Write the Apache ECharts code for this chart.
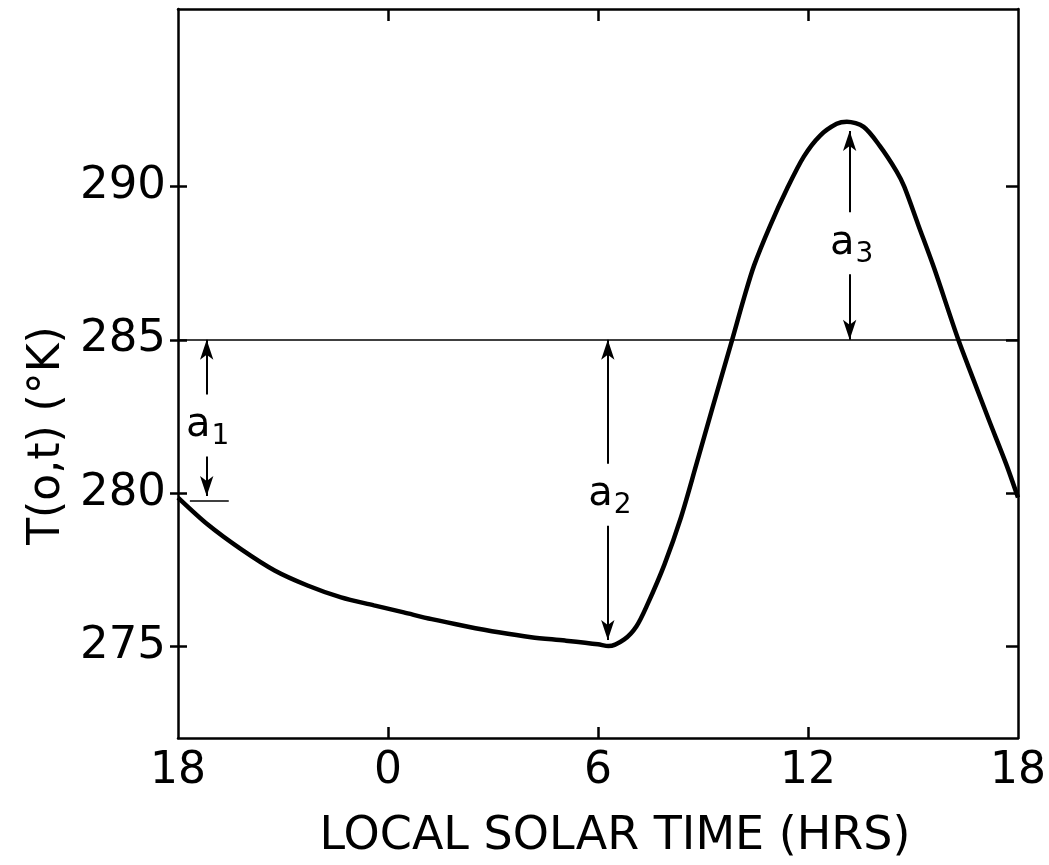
<!DOCTYPE html>
<html>
<head>
<meta charset="utf-8">
<script src="https://cdn.jsdelivr.net/npm/echarts@6/dist/echarts.min.js"></script>
<style>
html,body{margin:0;padding:0;background:#fff;}
#chart{width:1049px;height:865px;}
</style>
</head>
<body>
<div id="chart"></div>
<script>
// hours elapsed since 18 LST
const hours = [0, 0.85, 1.82, 2.76, 3.70, 4.66, 5.60, 6.45, 7.25, 8.22, 9.16, 10.09, 11.06, 12.0, 12.3, 12.75, 13.1, 13.42, 13.90, 14.37, 14.81, 15.27, 15.82, 16.17, 16.46, 16.92, 17.40, 17.88, 18.34, 18.82, 19.11, 19.59, 20.05, 20.53, 20.75, 21.15, 21.6, 22.28, 22.71, 23.18, 23.66, 24];
const temps = [279.85, 278.97, 278.15, 277.47, 276.98, 276.59, 276.33, 276.10, 275.88, 275.65, 275.45, 275.29, 275.18, 275.06, 275.0, 275.22, 275.65, 276.38, 277.67, 279.2, 280.93, 282.78, 284.95, 286.36, 287.43, 288.73, 289.93, 290.98, 291.66, 292.05, 292.12, 291.95, 291.33, 290.5, 290.0, 288.75, 287.35, 285.05, 283.75, 282.35, 280.95, 279.85];
const meanTemp = 285;
const xTickValues = [0, 6, 12, 18, 24];
const xTickLabels = ['18', '0', '6', '12', '18'];
const yTickValues = [275, 280, 285, 290];
// annotation arrows: [x, yFrom, yTo]
const arrowA1 = [0.82, 285, 279.9];
const arrowA2 = [12.28, 285, 275.2];
const arrowA3 = [19.19, 291.82, 285];
const a1Bar = [0.34, 1.45, 279.75];
const annotLabels = [
  {name: '1', pos: [0.85, 282.2]},
  {name: '2', pos: [12.34, 279.94]},
  {name: '3', pos: [19.25, 288.15]}
];

const FONT = 'DejaVu Sans';
const chart = echarts.init(document.getElementById('chart'), null, {renderer: 'canvas'});
const lineStyleAxis = {color: '#000', width: 2.5};

const curveData = hours.map((h, i) => [h, temps[i]]);
function arrow(a) {
  return [{coord: [a[0], a[1]]}, {coord: [a[0], a[2]]}];
}

const option = {
  backgroundColor: '#fff',
  animation: false,
  grid: {left: 178, right: 28, top: 9, bottom: 125, containLabel: false},
  xAxis: [{
    type: 'value', min: 0, max: 24, position: 'bottom',
    axisLine: {show: true, lineStyle: lineStyleAxis},
    axisTick: {show: true, inside: true, length: 11, lineStyle: {color: '#000', width: 2.5}, customValues: [6, 12, 18]},
    axisLabel: {show: true, customValues: xTickValues, margin: 12, color: '#000', fontFamily: FONT, fontSize: 44,
      formatter: v => xTickLabels[xTickValues.indexOf(v)]},
    splitLine: {show: false},
    name: 'LOCAL SOLAR TIME (HRS)', nameLocation: 'middle', nameGap: 76,
    nameTextStyle: {color: '#000', fontFamily: FONT, fontSize: 46, padding: [0, 0, 0, 34]}
  }, {
    type: 'value', min: 0, max: 24, position: 'top',
    axisLine: {show: true, lineStyle: lineStyleAxis},
    axisTick: {show: true, inside: true, length: 12, lineStyle: {color: '#000', width: 2.5}, customValues: [6, 12, 18]},
    axisLabel: {show: false}, splitLine: {show: false}
  }],
  yAxis: [{
    type: 'value', min: 272, max: 295.8, position: 'left',
    axisLine: {show: true, lineStyle: lineStyleAxis},
    axisTick: {show: true, inside: false, length: 8, lineStyle: {color: '#000', width: 2.5}, customValues: yTickValues},
    axisLabel: {show: true, customValues: yTickValues, margin: 12, color: '#000', fontFamily: FONT, fontSize: 45},
    splitLine: {show: false},
    name: 'T(o,t) (°K)', nameLocation: 'middle', nameGap: 108,
    nameTextStyle: {color: '#000', fontFamily: FONT, fontSize: 44, padding: [0, 124, 0, 0]}
  }, {
    type: 'value', min: 272, max: 295.8, position: 'left', offset: 0,
    axisLine: {show: false},
    axisTick: {show: true, inside: true, length: 9, lineStyle: {color: '#000', width: 2.5}, customValues: yTickValues},
    axisLabel: {show: false}, splitLine: {show: false}
  }, {
    type: 'value', min: 272, max: 295.8, position: 'right',
    axisLine: {show: true, lineStyle: lineStyleAxis},
    axisTick: {show: true, inside: true, length: 12, lineStyle: {color: '#000', width: 2.5}, customValues: yTickValues},
    axisLabel: {show: false}, splitLine: {show: false}
  }],
  series: [{
    type: 'line', data: curveData, xAxisIndex: 0, yAxisIndex: 0,
    showSymbol: false, smooth: 0.3, z: 5,
    lineStyle: {color: '#000', width: 4.5},
    markLine: {
      silent: true, symbol: ['none', 'none'], z: 3,
      label: {show: false},
      lineStyle: {color: '#000', width: 1.6, type: 'solid'},
      data: [[{coord: [0, meanTemp]}, {coord: [24, meanTemp]}],
             [{coord: [a1Bar[0], a1Bar[2]]}, {coord: [a1Bar[1], a1Bar[2]]}]]
    }
  }, {
    type: 'line', data: [], xAxisIndex: 0, yAxisIndex: 0, z: 3,
    markLine: {
      silent: true, symbol: ['arrow', 'arrow'], symbolSize: [10, 20],
      label: {show: false},
      lineStyle: {color: '#000', width: 2, type: 'solid'},
      itemStyle: {color: '#000'},
      data: [arrow(arrowA1), arrow(arrowA2), arrow(arrowA3)]
    }
  }, {
    type: 'scatter', xAxisIndex: 0, yAxisIndex: 0, z: 10, symbolSize: 0, silent: true,
    itemStyle: {color: '#000', opacity: 1},
    data: annotLabels.map(d => ({value: d.pos, name: d.name})),
    label: {
      show: true, position: 'inside', color: '#000', textBorderWidth: 0,
      backgroundColor: '#fff', padding: [6, 2, 6, 2],
      formatter: p => '{a|a}{s|' + p.name + '}',
      rich: {
        a: {fontFamily: FONT, fontSize: 40, color: '#000', textBorderWidth: 0, lineHeight: 50, verticalAlign: 'middle'},
        s: {fontFamily: FONT, fontSize: 28, color: '#000', textBorderWidth: 0, lineHeight: 50, verticalAlign: 'bottom', padding: [0, 0, 0, 1]}
      }
    }
  }]
};
chart.setOption(option);
</script>
</body>
</html>
